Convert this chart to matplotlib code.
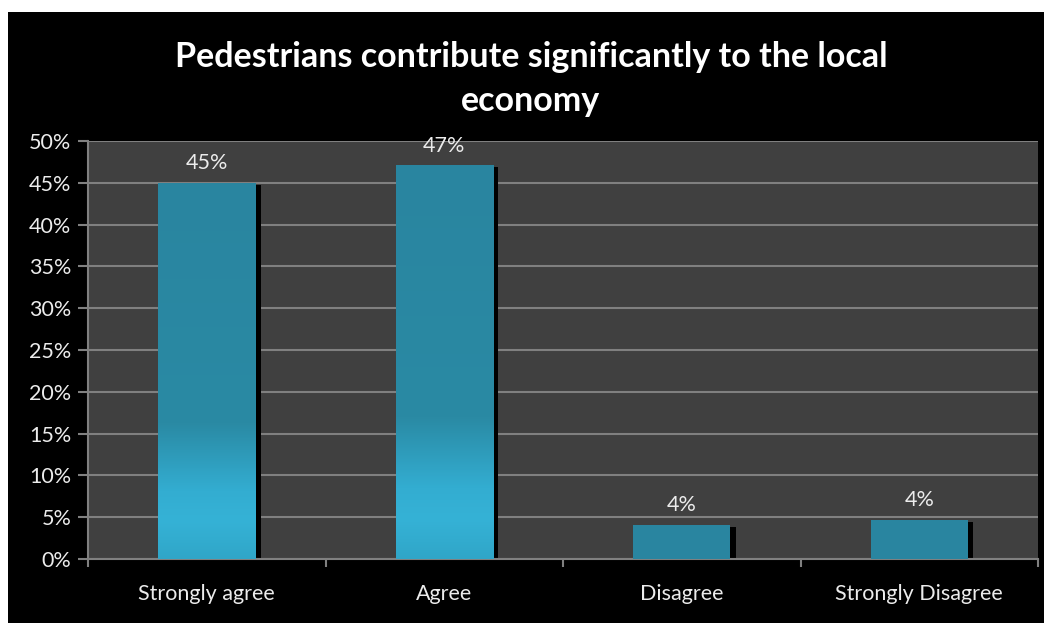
import matplotlib
matplotlib.use("Agg")
import matplotlib.pyplot as plt
import numpy as np
from matplotlib.patches import Rectangle
from matplotlib.colors import LinearSegmentedColormap

categories = ["Strongly agree", "Agree", "Disagree", "Strongly Disagree"]
values = [0.45, 0.471, 0.041, 0.047]
labels = ["45%", "47%", "4%", "4%"]
yticks = [0, 0.05, 0.10, 0.15, 0.20, 0.25, 0.30, 0.35, 0.40, 0.45, 0.50]
ytick_labels = ["0%", "5%", "10%", "15%", "20%", "25%", "30%", "35%", "40%", "45%", "50%"]
use_gradient = [True, True, False, False]

W, H = 1044, 623
fig = plt.figure(figsize=(W / 100, H / 100), dpi=100, facecolor="white")
fig.patches.append(Rectangle((8 / W, 0), 1 - 8 / W, 1 - 12 / H, transform=fig.transFigure,
                             facecolor="black", edgecolor="none", zorder=-10))

ax = fig.add_axes([88 / W, (H - 559) / H, (1038 - 88) / W, (559 - 141) / H])
ax.set_facecolor("#404040")
font = "Lato"

x = np.arange(len(categories))
bw = 0.41
dark = "#2985a0"
cmap = LinearSegmentedColormap.from_list(
    "bar", [(0.0, "#30a6c8"), (0.1, "#35b2d6"), (0.18, "#33add1"), (0.36, "#2a8aa4"), (1.0, dark)])

for i, v in enumerate(values):
    # shadow
    ax.add_patch(Rectangle((x[i] - bw / 2 + 0.022, 0), bw, v - 0.0025, facecolor="black",
                           edgecolor="none", zorder=2))
    rect = Rectangle((x[i] - bw / 2, 0), bw, v, facecolor=dark, edgecolor="none", zorder=3)
    ax.add_patch(rect)
    if use_gradient[i]:
        grad = np.linspace(0, 1, 256).reshape(-1, 1)
        im = ax.imshow(grad, cmap=cmap, origin="lower", aspect="auto",
                       extent=(x[i] - bw / 2, x[i] + bw / 2, 0, v), zorder=4)
        im.set_clip_path(rect)
    ax.annotate(labels[i], (x[i], v), xytext=(0, 7), textcoords="offset points",
                ha="center", va="bottom", color="#ececec", fontsize=15.5, family=font, zorder=5)

ax.set_xlim(-0.5, len(categories) - 0.5)
ax.set_ylim(0, 0.5)
ax.set_yticks(yticks)
ax.set_yticklabels(ytick_labels)
ax.set_xticks(x)
ax.set_xticklabels(categories)
ax.set_xticks(np.arange(-0.5, len(categories)), minor=True)
ax.tick_params(axis="x", which="major", length=0, pad=18, labelsize=15.5, labelcolor="#ececec")
ax.tick_params(axis="x", which="minor", length=6, width=1.5, color="#808080", direction="out")
ax.tick_params(axis="y", length=7, width=1.5, color="#808080", labelsize=15.5,
               labelcolor="#ececec", pad=5)
for lab in ax.get_xticklabels() + ax.get_yticklabels():
    lab.set_family(font)

ax.grid(axis="y", color="#808080", linewidth=1.5, zorder=1)
ax.set_axisbelow(True)
for s in ["top", "right"]:
    ax.spines[s].set_visible(False)
for s in ["left", "bottom"]:
    ax.spines[s].set_color("#808080")
    ax.spines[s].set_linewidth(1.5)

fig.text(531 / W, 1 - 79 / H, "Pedestrians contribute significantly to the local\neconomy",
         ha="center", va="center", color="white", fontsize=24.5, fontweight="bold",
         family=font, linespacing=1.45)

fig.savefig("out.png", dpi=100, facecolor="white")
